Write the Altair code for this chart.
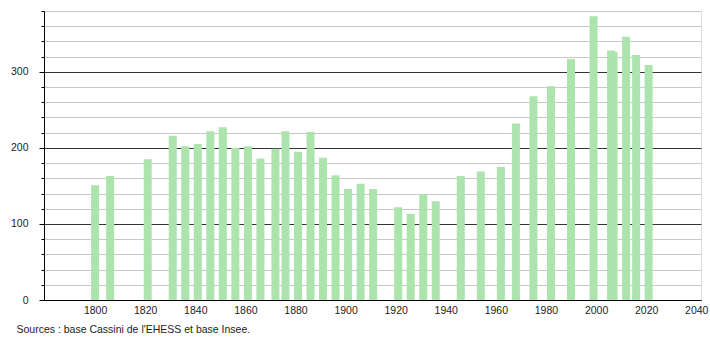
import altair as alt
import pandas as pd

years = [1800, 1806, 1821, 1831, 1836, 1841, 1846, 1851, 1856, 1861, 1866, 1872,
         1876, 1881, 1886, 1891, 1896, 1901, 1906, 1911, 1921, 1926, 1931, 1936,
         1946, 1954, 1962, 1968, 1975, 1982, 1990, 1999, 2006, 2007, 2012, 2016, 2021]
population = [151, 163, 185, 216, 202, 205, 222, 227, 200, 202, 186, 199,
              222, 195, 221, 187, 164, 146, 153, 146, 122, 113, 139, 130,
              163, 169, 175, 232, 268, 281, 317, 373, 328, 326, 346, 322, 309]

x_ticks = list(range(1800, 2041, 20))
y_ticks = list(range(0, 381, 20))
source_text = "Sources : base Cassini de l'EHESS et base Insee."

df = pd.DataFrame({"annee": years, "population": population})

FONT = "Liberation Sans"

chart = (
    alt.Chart(df)
    .mark_bar(size=8, color="#ade3ad")
    .encode(
        x=alt.X(
            "annee:Q",
            scale=alt.Scale(domain=[1779.6, 2041.9], nice=False, zero=False, padding=0),
            axis=alt.Axis(
                values=x_ticks,
                title=None,
                grid=False,
                ticks=False,
                format="d",
                domainColor="#000000",
                domainWidth=1,
                labelFont=FONT,
                labelFontSize=10.5,
                labelColor="#222222",
                labelPadding=5,
                labelFlush=False,
            ),
        ),
        y=alt.Y(
            "population:Q",
            scale=alt.Scale(domain=[0, 380], nice=False),
            axis=alt.Axis(
                values=y_ticks,
                title=None,
                grid=True,
                gridColor=alt.condition("datum.value % 100 === 0", alt.value("#333333"), alt.value("#c8c8c8")),
                gridWidth=1,
                ticks=True,
                tickColor="#000000",
                tickSize=alt.condition("datum.value % 100 === 0", alt.value(5), alt.value(3)),
                domainColor="#000000",
                labelExpr="datum.value % 100 === 0 ? datum.label : ''",
                labelFont=FONT,
                labelFontSize=10.5,
                labelColor="#222222",
                labelPadding=11,
            ),
        ),
    )
    .properties(
        width=657,
        height=289,
        title=alt.TitleParams(
            text=source_text,
            orient="bottom",
            anchor="start",
            dx=6,
            offset=9,
            font=FONT,
            fontSize=10.5,
            fontWeight="normal",
            color="#222222",
        ),
        autosize=alt.AutoSizeParams(type="none"),
        padding={"left": 44, "top": 11, "right": 9, "bottom": 40},
    )
    .configure_view(stroke=None)
    .configure(background="#ffffff")
)

chart.save("out.html", embed_options={"renderer": "svg", "actions": False})
